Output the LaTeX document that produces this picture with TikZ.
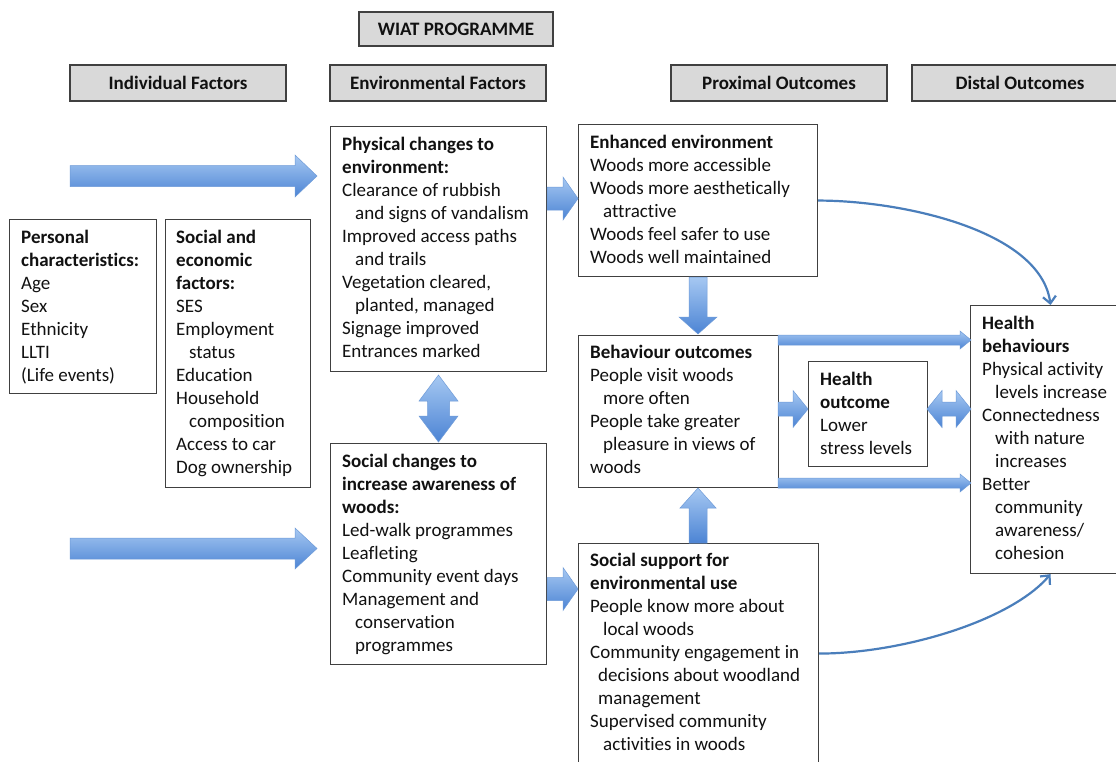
\documentclass[tikz,border=0pt]{standalone}
\usepackage{fontspec}
\setmainfont{Carlito}[Ligatures=NoCommon]
\usetikzlibrary{arrows.meta}
\definecolor{boxline}{HTML}{404040}
\definecolor{hdrfill}{HTML}{D9D9D9}
\definecolor{arrtop}{HTML}{A6C8F2}
\definecolor{arrbot}{HTML}{4C84D4}
\definecolor{arredge}{HTML}{6E9BD8}
\definecolor{thinblue}{HTML}{4A7EBB}
\definecolor{txtcol}{HTML}{111111}
\newcommand\ind{\hspace*{13pt}}
\newcommand\indb{\hspace*{8pt}}
\newcommand\fl{\rule{0pt}{17pt}}
% horizontal single block arrow: xstart, xtip, ycenter, shaft half, head half, head length (signed)
\newcommand\HArr[6]{\path[blockarr] ({#1},{#3-#4}) -- ({#2-(#6)},{#3-#4}) -- ({#2-(#6)},{#3-#5}) -- ({#2},{#3}) -- ({#2-(#6)},{#3+#5}) -- ({#2-(#6)},{#3+#4}) -- ({#1},{#3+#4}) -- cycle;}
% vertical single block arrow: xcenter, ystart, ytip, shaft half, head half, head length (signed)
\newcommand\VArr[6]{\path[blockarr] ({#1-#4},{#2}) -- ({#1-#4},{#3-(#6)}) -- ({#1-#5},{#3-(#6)}) -- ({#1},{#3}) -- ({#1+#5},{#3-(#6)}) -- ({#1+#4},{#3-(#6)}) -- ({#1+#4},{#2}) -- cycle;}
% horizontal double block arrow
\newcommand\HDArr[6]{\path[blockarr] ({#1},{#3}) -- ({#1+#6},{#3-#5}) -- ({#1+#6},{#3-#4}) -- ({#2-#6},{#3-#4}) -- ({#2-#6},{#3-#5}) -- ({#2},{#3}) -- ({#2-#6},{#3+#5}) -- ({#2-#6},{#3+#4}) -- ({#1+#6},{#3+#4}) -- ({#1+#6},{#3+#5}) -- cycle;}
% vertical double block arrow
\newcommand\VDArr[6]{\path[blockarr] ({#1},{#2}) -- ({#1+#5},{#2+#6}) -- ({#1+#4},{#2+#6}) -- ({#1+#4},{#3-#6}) -- ({#1+#5},{#3-#6}) -- ({#1},{#3}) -- ({#1-#5},{#3-#6}) -- ({#1-#4},{#3-#6}) -- ({#1-#4},{#2+#6}) -- ({#1-#5},{#2+#6}) -- cycle;}
% box: name, left, top, right, bottom
\newcommand\nbox[5]{\node[boxst, minimum width={#4-#2}, minimum height={#5-#3}] (#1) at (#2,#3) {};}
\tikzset{
  boxst/.style={draw=boxline, line width=1.1pt, fill=white, anchor=north west, inner sep=0pt},
  hdr/.style={draw=boxline, line width=1.3pt, fill=hdrfill, inner sep=0pt, minimum width=216, minimum height=36,
     text height=14pt, text depth=2pt, text=txtcol, font=\bfseries\fontsize{19}{23}\selectfont},
  txt/.style={anchor=north west, inner sep=0pt, align=left, text=txtcol, font=\fontsize{19}{23}\selectfont},
  blockarr/.style={top color=arrtop, bottom color=arrbot, draw=arredge, line width=0.5pt},
  thinarr/.style={draw=thinblue, line width=2.2pt, -{Straight Barb[length=7pt,width=13pt]}}
}
\begin{document}
\begin{tikzpicture}[x=1pt, y=-1pt]
\useasboundingbox (0,0) rectangle (1116,761);
\fill[white] (0,0) rectangle (1116,761);
\clip (0,0) rectangle (1116,761);

% headers
\node[hdr, minimum width=194, minimum height=34] (wiat) at (456,29) {WIAT PROGRAMME};
\node[hdr] (indiv) at (178,83) {Individual Factors};
\node[hdr] (envf) at (438,83) {Environmental Factors};
\node[hdr] (prox) at (779,83) {Proximal Outcomes};
\node[hdr] (dist) at (1020,83) {Distal Outcomes};

% boxes
\nbox{pers}{9}{219}{156}{393}
\nbox{soc}{165}{219}{310}{487}
\nbox{phys}{330}{126}{546}{371}
\nbox{socch}{330}{443}{546}{664}
\nbox{enh}{578}{124}{817}{276}
\nbox{beh}{578}{335}{778}{487}
\nbox{ho}{808}{361}{927}{466}
\nbox{hb}{970}{305}{1130}{573}
\nbox{sup}{578}{543}{818}{763}

% texts
\node[txt] (pers-t) at (21,226) {\fl\textbf{Personal}\\\textbf{characteristics:}\\Age\\Sex\\Ethnicity\\LLTI\\(Life events)};
\node[txt] (soc-t) at (176,226) {\fl\textbf{Social and}\\\textbf{economic}\\\textbf{factors:}\\SES\\Employment\\\ind status\\Education\\Household\\\ind composition\\Access to car\\Dog ownership};
\node[txt] (phys-t) at (342,133) {\fl\textbf{Physical changes to}\\\textbf{environment:}\\Clearance of rubbish\\\ind and signs of vandalism\\Improved access paths\\\ind and trails\\Vegetation cleared,\\\ind planted, managed\\Signage improved\\Entrances marked};
\node[txt] (socch-t) at (342,450) {\fl\textbf{Social changes to}\\\textbf{increase awareness of}\\\textbf{woods:}\\Led-walk programmes\\Leafleting\\Community event days\\Management and\\\ind conservation\\\ind programmes};
\node[txt] (enh-t) at (590,131) {\fl\textbf{Enhanced environment}\\Woods more accessible\\Woods more aesthetically\\\ind attractive\\Woods feel safer to use\\Woods well maintained};
\node[txt] (beh-t) at (590,341) {\fl\textbf{Behaviour outcomes}\\People visit woods\\\ind more often\\People take greater\\\ind pleasure in views of\\woods};
\node[txt] (ho-t) at (820,368) {\fl\textbf{Health}\\\textbf{outcome}\\Lower\\stress levels};
\node[txt] (hb-t) at (982,312) {\fl\textbf{Health}\\\textbf{behaviours}\\Physical activity\\\ind levels increase\\Connectedness\\\ind with nature\\\ind increases\\Better\\\ind community\\\ind awareness/\\\ind cohesion};
\node[txt] (sup-t) at (590,549) {\fl\textbf{Social support for}\\\textbf{environmental use}\\People know more about\\\ind local woods\\Community engagement in\\\indb decisions about woodland\\\indb management\\Supervised community\\\ind activities in woods};

% block arrows
\HArr{70}{317}{176}{10.5}{21}{22}
\HArr{70}{317}{548.5}{10.5}{20.5}{22}
\HArr{547}{578}{198.5}{11.5}{21.5}{15}
\HArr{547}{578}{589}{11.5}{21.5}{15}
\VDArr{438.5}{375}{442}{11}{19.5}{26}
\VArr{698}{277}{334}{9}{19}{17}
\VArr{698}{543}{488}{9}{18}{-20}
\HArr{778}{808}{409}{7}{18.5}{15}
\HDArr{927}{971}{409}{7}{18.5}{15}
\HArr{778}{971}{340}{5}{9}{11}
\HArr{778}{971}{483}{5}{9}{11}

% thin curved arrows
\draw[thinarr] (enh.east) .. controls +(83,0) and +(-10,-75) .. (hb.north);
\draw[thinarr] (sup.east) .. controls +(82,0) and +(-40,47) .. (hb.south);
\end{tikzpicture}
\end{document}
